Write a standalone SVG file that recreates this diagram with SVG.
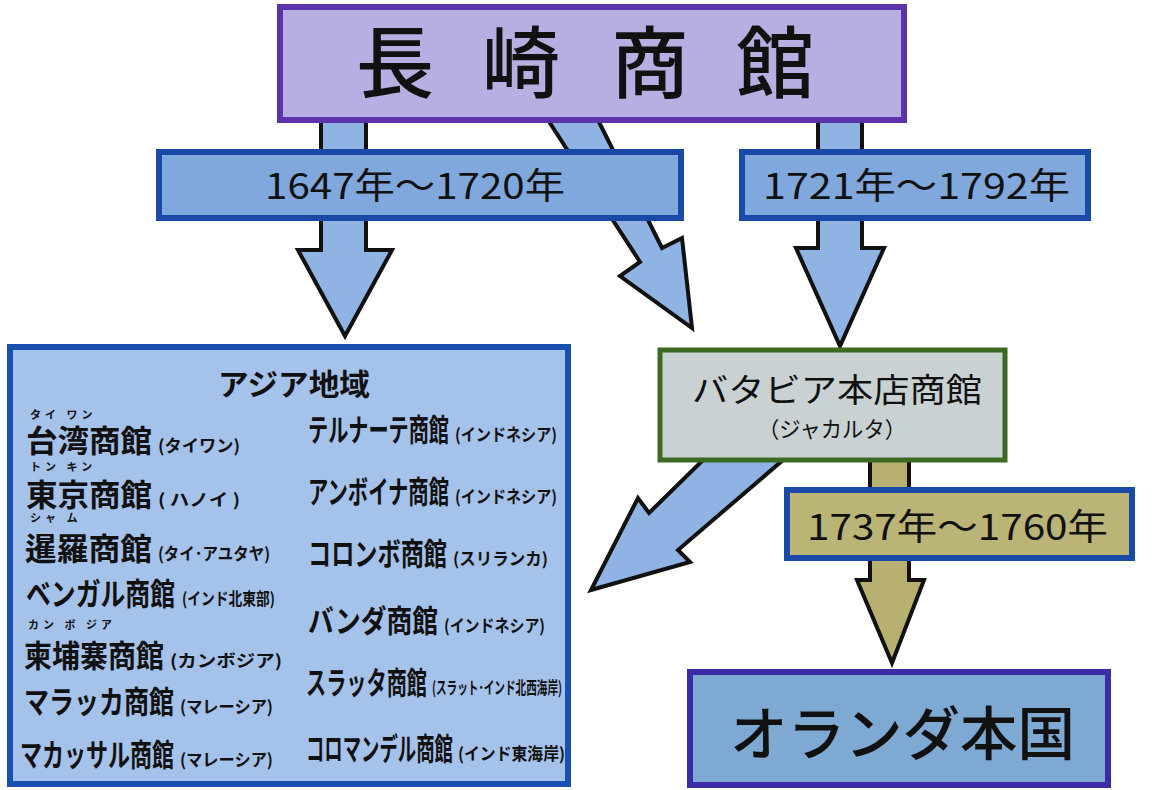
<svg xmlns="http://www.w3.org/2000/svg" width="1174" height="790" viewBox="0 0 1174 790">
<style>
text{font-family:"Noto Sans CJK JP","Noto Sans",sans-serif;fill:#111}
.arB{fill:#8fb4e4;stroke:#111;stroke-width:4;stroke-linejoin:miter}
.arO{fill:#b8b070;stroke:#111;stroke-width:4}
.date{fill:#80a8dc;stroke:#1a4aa8;stroke-width:6}
.it{font-size:31px;font-weight:700}
.sm{font-size:17px;font-weight:700}
.rb{font-size:11px;font-weight:700}
.t{font-size:78px;font-weight:500}
</style>
<rect width="1174" height="790" fill="#fff"/>
<g id="connectors">
<polygon class="arB" points="321,120 366,120 366,250 392,250 345,336 298,250 321,250"/>
<polygon class="arB" points="548,120 598,120 662,248 682,238 692,328 620,276 640,262"/>
<polygon class="arB" points="818,120 862,120 862,248 884,248 840,346 796,248 818,248"/>
<polygon class="arB" points="703,460 783,460 678,550 690,562 591,590 638,498 649,513"/>
<polygon class="arO" points="870,460 909,460 909,580 924,580 892,663 857,580 870,580"/>
</g>
<g id="nagasaki">
<rect x="280" y="7" width="624" height="113" fill="#b9aee2" stroke="#5a34a8" stroke-width="6"/>
<text class="t" x="395" y="92" text-anchor="middle">長</text>
<text class="t" x="521" y="92" text-anchor="middle">崎</text>
<text class="t" x="650" y="92" text-anchor="middle">商</text>
<text class="t" x="775" y="92" text-anchor="middle">館</text>
</g>
<g id="date1">
<rect class="date" x="159" y="152" width="522" height="66"/>
<text x="265" y="199" font-size="36" textLength="300" lengthAdjust="spacingAndGlyphs">1647年～1720年</text>
</g>
<g id="date2">
<rect class="date" x="742" y="152" width="346" height="66"/>
<text x="763" y="199" font-size="36" textLength="307" lengthAdjust="spacingAndGlyphs">1721年～1792年</text>
</g>
<g id="asia">
<rect x="10" y="347" width="558" height="437" fill="#a4c2ea" stroke="#1a50b0" stroke-width="6"/>
<text x="218" y="395" font-size="30" font-weight="700" textLength="152" lengthAdjust="spacingAndGlyphs">アジア地域</text>
<text class="rb" x="30" y="419" letter-spacing="4">タイ ワン</text>
<text x="26" y="452" class="it" textLength="126" lengthAdjust="spacingAndGlyphs">台湾商館</text>
<text x="158" y="452" class="sm" textLength="82" lengthAdjust="spacingAndGlyphs">(タイワン)</text>
<text class="rb" x="30" y="471" letter-spacing="4">トン キン</text>
<text x="26" y="506" class="it" textLength="126" lengthAdjust="spacingAndGlyphs">東京商館</text>
<text x="158" y="506" class="sm" textLength="82" lengthAdjust="spacingAndGlyphs">( ハノイ )</text>
<text class="rb" x="30" y="522" letter-spacing="4">シャ ム</text>
<text x="25" y="560" class="it" textLength="127" lengthAdjust="spacingAndGlyphs">暹羅商館</text>
<text x="158" y="560" class="sm" textLength="112" lengthAdjust="spacingAndGlyphs">(タイ･アユタヤ)</text>
<text x="26" y="605" class="it" textLength="149" lengthAdjust="spacingAndGlyphs">ベンガル商館</text>
<text x="182" y="605" class="sm" textLength="93" lengthAdjust="spacingAndGlyphs">(インド北東部)</text>
<text class="rb" x="28" y="629" letter-spacing="4">カン ボ ジア</text>
<text x="24" y="667" class="it" textLength="140" lengthAdjust="spacingAndGlyphs">柬埔寨商館</text>
<text x="170" y="667" class="sm" textLength="112" lengthAdjust="spacingAndGlyphs">(カンボジア)</text>
<text x="24" y="713" class="it" textLength="150" lengthAdjust="spacingAndGlyphs">マラッカ商館</text>
<text x="180" y="713" class="sm" textLength="93" lengthAdjust="spacingAndGlyphs">(マレーシア)</text>
<text x="20" y="766" class="it" textLength="154" lengthAdjust="spacingAndGlyphs">マカッサル商館</text>
<text x="180" y="766" class="sm" textLength="93" lengthAdjust="spacingAndGlyphs">(マレーシア)</text>
<text x="308" y="441" class="it" textLength="141" lengthAdjust="spacingAndGlyphs">テルナーテ商館</text>
<text x="455" y="441" class="sm" textLength="102" lengthAdjust="spacingAndGlyphs">(インドネシア)</text>
<text x="308" y="503" class="it" textLength="141" lengthAdjust="spacingAndGlyphs">アンボイナ商館</text>
<text x="455" y="503" class="sm" textLength="102" lengthAdjust="spacingAndGlyphs">(インドネシア)</text>
<text x="308" y="565" class="it" textLength="139" lengthAdjust="spacingAndGlyphs">コロンボ商館</text>
<text x="453" y="565" class="sm" textLength="95" lengthAdjust="spacingAndGlyphs">(スリランカ)</text>
<text x="308" y="632" class="it" textLength="130" lengthAdjust="spacingAndGlyphs">バンダ商館</text>
<text x="444" y="632" class="sm" textLength="101" lengthAdjust="spacingAndGlyphs">(インドネシア)</text>
<text x="306" y="694" class="it" textLength="121" lengthAdjust="spacingAndGlyphs">スラッタ商館</text>
<text x="432" y="694" class="sm" textLength="130" lengthAdjust="spacingAndGlyphs">(スラット･インド北西海岸)</text>
<text x="306" y="760" class="it" textLength="147" lengthAdjust="spacingAndGlyphs">コロマンデル商館</text>
<text x="458" y="760" class="sm" textLength="107" lengthAdjust="spacingAndGlyphs">(インド東海岸)</text>
</g>
<g id="batavia">
<rect x="660" y="350" width="345" height="110" fill="#c9d1d2" stroke="#3d6a22" stroke-width="5"/>
<text x="692" y="402" font-size="33" textLength="290" lengthAdjust="spacingAndGlyphs">バタビア本店商館</text>
<text x="758" y="437" font-size="22" textLength="148" lengthAdjust="spacingAndGlyphs">（ジャカルタ）</text>
</g>
<g id="date3">
<rect x="787" y="490" width="345" height="68" fill="#bab476" stroke="#1a4aa8" stroke-width="6"/>
<text x="807" y="540" font-size="36" textLength="301" lengthAdjust="spacingAndGlyphs">1737年～1760年</text>
</g>
<g id="oranda">
<rect x="690" y="672" width="418" height="113" fill="#7ea9d2" stroke="#3a2ca6" stroke-width="6"/>
<text x="730" y="755" font-size="58" font-weight="500" textLength="345" lengthAdjust="spacingAndGlyphs">オランダ本国</text>
</g>
</svg>
